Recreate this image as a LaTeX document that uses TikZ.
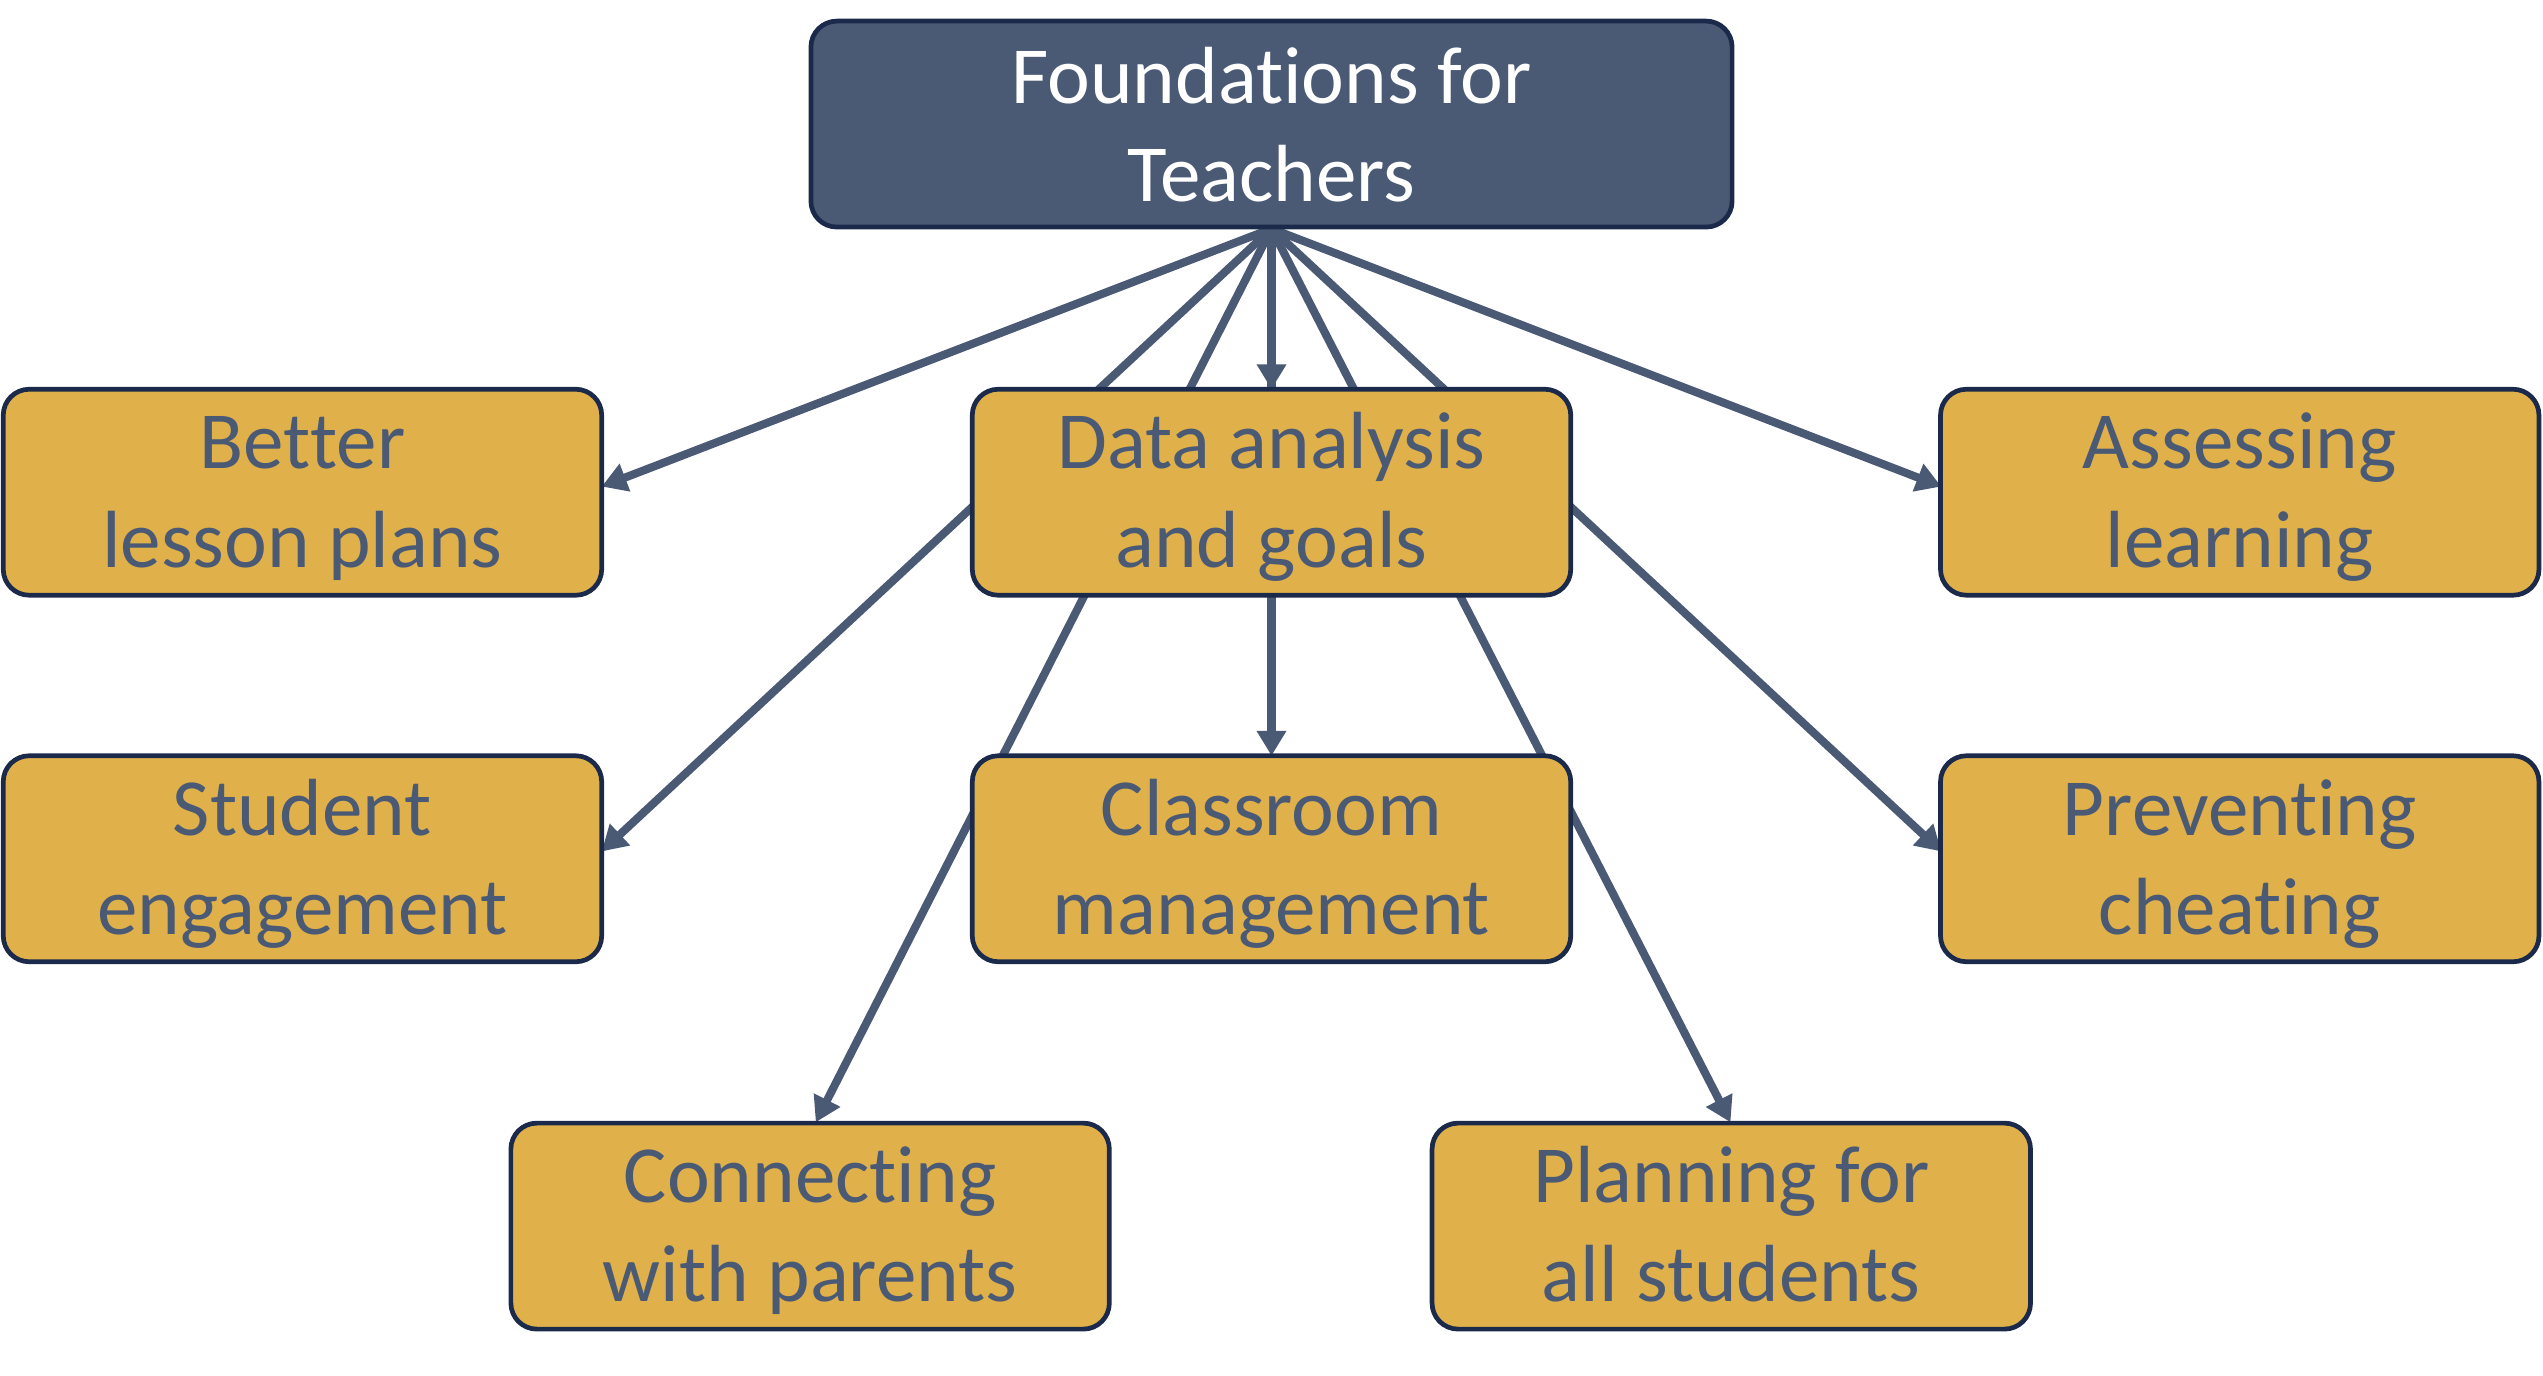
\documentclass[tikz,border=0pt]{standalone}
\usepackage{fontspec}
\setmainfont{Carlito}[Ligatures={NoCommon,NoContextual,NoRare},Contextuals=NoAlternate]
\usetikzlibrary{arrows.meta}
\definecolor{gold}{HTML}{E0B14A}
\definecolor{navy}{HTML}{1B2A4A}
\definecolor{slate}{HTML}{4A5A75}
\newcommand\hstrut{\rule{0pt}{22.6pt}}
\newcommand\tstrut{\rule{0pt}{24pt}}
\newcommand\dstrut{\rule[-6.5pt]{0pt}{6.5pt}}
\newcommand\nl{\kern0pt }
\begin{document}
\begin{tikzpicture}[x=0.5pt,y=-0.5pt,
  box/.style={draw=navy,line width=1.45pt,rounded corners=8pt,fill=gold,text=slate,
    minimum width=184.5pt,minimum height=63.5pt,align=center,inner sep=0pt,
    font=\fontsize{25}{30.5}\selectfont},
  topbox/.style={box,fill=slate,text=white,minimum width=284pt},
  conn/.style={draw=slate,line width=2.5pt,-{Triangle[length=7.7pt,width=8.7pt]}}]
\useasboundingbox (0,0) rectangle (1568,848);
\coordinate (src) at (784,141);
\coordinate (t1) at (371,300);
\coordinate (t2) at (1197,300);
\coordinate (t3) at (784,240);
\coordinate (t4) at (371,525);
\coordinate (t5) at (784,466);
\coordinate (t6) at (1197,525);
\coordinate (t7) at (503,692);
\coordinate (t8) at (1067,692);
\foreach \t in {t1,t2,t3,t4,t5,t6,t7,t8}
  \draw[conn] (src) -- (\t);
\node[topbox] (top) at (784,76.5) {\tstrut Foundat\nl ions for\\Teachers\dstrut};
\node[box] (blp) at (186.5,303.5) {\hstrut Bet\nl ter\\lesson plans\dstrut};
\node[box] (dag) at (784,303.5) {\hstrut Data analysis\\and goals\dstrut};
\node[box] (asl) at (1381,303.5) {\hstrut Assessing\\learning\dstrut};
\node[box] (sen) at (186.5,529.5) {\hstrut Student\\engagement\dstrut};
\node[box] (clm) at (784,529.5) {\hstrut Classroom\\management\dstrut};
\node[box] (pch) at (1381,529.5) {\hstrut Prevent\nl ing\\cheating\dstrut};
\node[box] (cwp) at (499.5,756) {\hstrut Connect\nl ing\\with parents\dstrut};
\node[box] (pfs) at (1067.5,756) {\hstrut Planning for\\all students\dstrut};
\end{tikzpicture}
\end{document}
